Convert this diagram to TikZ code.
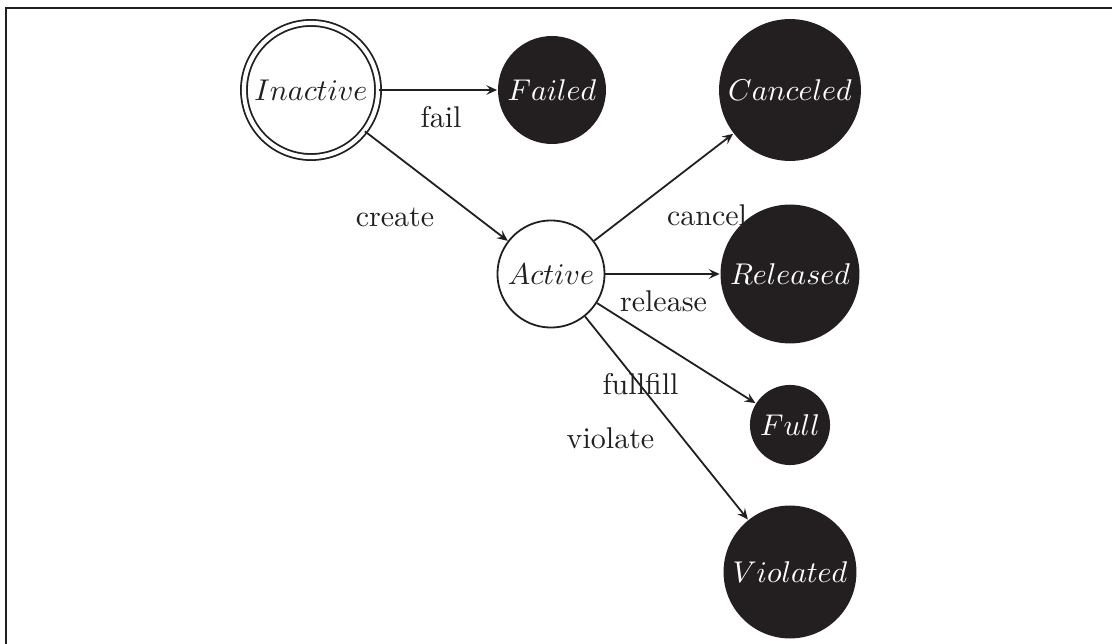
\documentclass[tikz,border=0pt]{standalone}
\usetikzlibrary{arrows.meta}
\definecolor{ink}{HTML}{231F20}
\begin{document}
\begin{tikzpicture}[x=0.33333pt,y=-0.33333pt,
  every path/.style={line width=0.6pt},
  >={Stealth[length=3.6pt,width=3.2pt,inset=1.4pt]},
  openstate/.style={circle,draw=ink,inner sep=0pt,text=ink,line width=0.6pt},
  finalstate/.style={circle,fill=ink,inner sep=0pt,text=white},
  lbl/.style={anchor=base,text=ink,inner sep=0pt},
  conn/.style={->,draw=ink,line width=0.6pt}]
\useasboundingbox (0,0) rectangle (1112,644);
\draw[ink,line width=0.6pt] (5.7,650) -- (5.7,8.3) -- (1120,8.3);

\node[openstate,double=white,double distance=1.4pt,minimum size=44.7pt] (inactive) at (311,90) {$Inactive$};
\node[finalstate,minimum size=36pt] (failed) at (552,90) {$Failed$};
\node[finalstate,minimum size=47.3pt] (canceled) at (790,90) {$Canceled$};
\node[openstate,minimum size=35.7pt] (active) at (551,274) {$Active$};
\node[finalstate,minimum size=46.3pt] (released) at (790,274) {$Released$};
\node[finalstate,minimum size=26.7pt] (full) at (790,425) {$Full$};
\node[finalstate,minimum size=44.3pt] (violated) at (790,572) {$Violated$};

\draw[conn] (inactive) -- (failed);
\draw[conn] (inactive) -- (active);
\draw[conn] (active) -- (canceled);
\draw[conn] (active) -- (released);
\draw[conn] (active) -- (full);
\draw[conn] (active) -- (violated);

\node[lbl] (lfail) at (441,127.7) {fail};
\node[lbl] (lcreate) at (395,227) {create};
\node[lbl] (lcancel) at (707,226) {cancel};
\node[lbl] (lrelease) at (663.5,311.7) {release};
\node[lbl] (lfullfill) at (640.5,395) {fullfill};
\node[lbl] (lviolate) at (610.5,449) {violate};
\end{tikzpicture}
\end{document}
